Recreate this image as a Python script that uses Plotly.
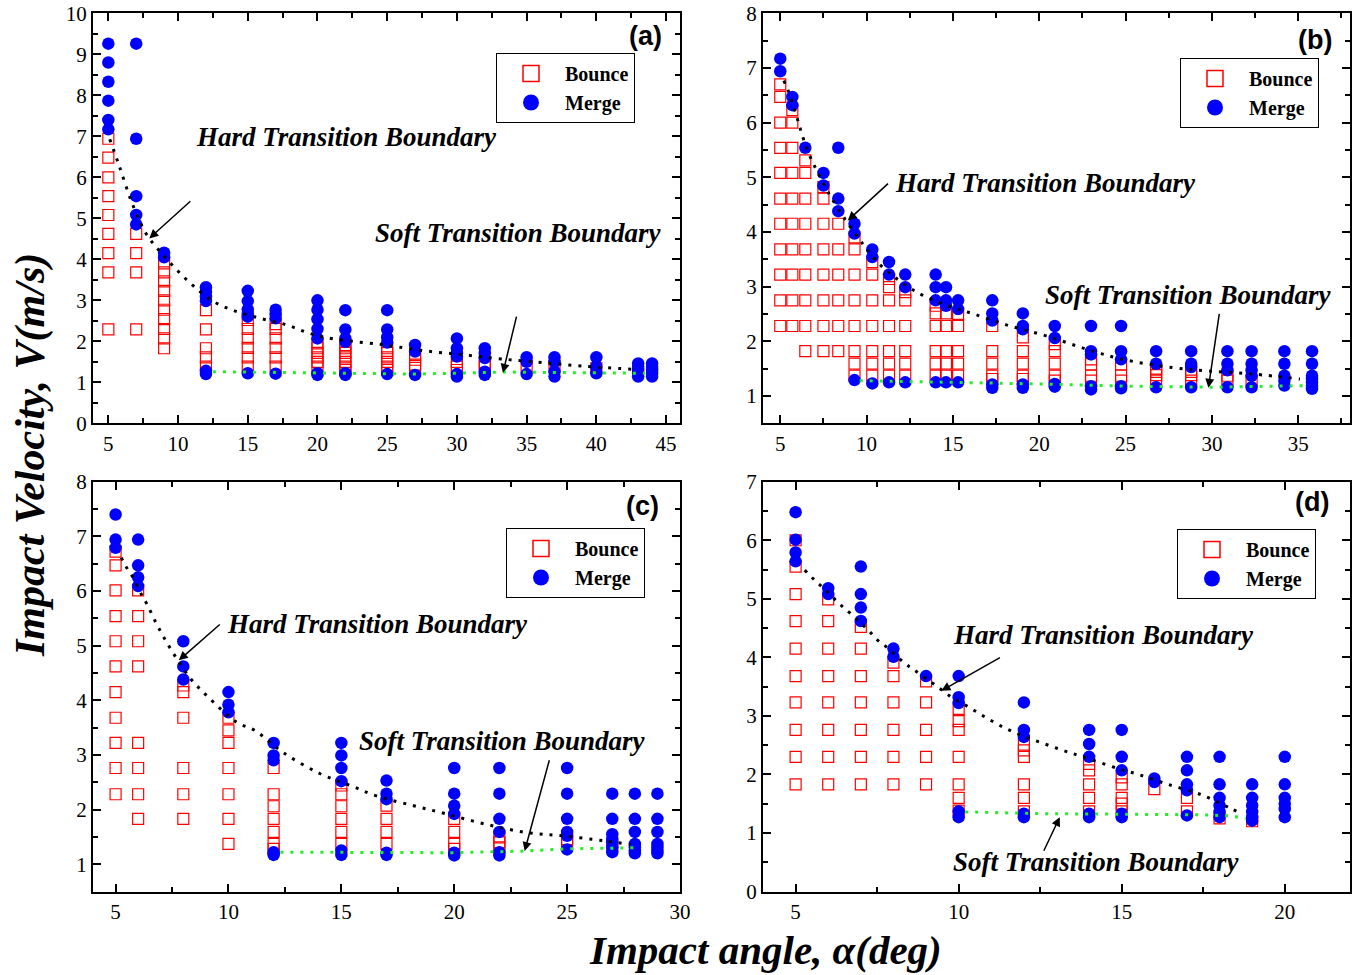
import plotly.graph_objects as go

# ---------------- DATA ----------------
# Panel (a): velocities at each impact angle
a_bounce = {
    5: [6.94, 6.48, 6.0, 5.54, 5.08, 4.62, 4.15, 3.68, 2.29],
    7: [4.62, 4.15, 3.68, 2.29],
    9: [3.9, 3.68, 3.46, 3.23, 3.0, 2.77, 2.54, 2.3, 2.07, 1.83],
    12: [2.76, 2.29, 1.83, 1.61, 1.38],
    15: [2.52, 2.3, 2.07, 1.84, 1.61, 1.38],
    17: [2.42, 2.3, 2.07, 1.84, 1.61, 1.38],
    20: [1.95, 1.83, 1.72, 1.61, 1.5, 1.38],
    22: [1.91, 1.83, 1.72, 1.61, 1.5, 1.38, 1.3],
    25: [1.83, 1.72, 1.61, 1.5, 1.38, 1.3],
    27: [1.67, 1.55, 1.43, 1.35],
    30: [1.5, 1.38, 1.3],
    32: [1.46, 1.38],
    35: [1.38],
    37: [1.38],
    40: [1.34],
}
a_merge = {
    5: [9.26, 8.8, 8.33, 7.87, 7.4, 7.17],
    7: [9.26, 6.94, 5.54, 5.08, 4.85],
    9: [4.16, 4.05],
    12: [3.32, 3.2, 3.08, 2.98, 1.28, 1.2],
    15: [3.23, 2.98, 2.78, 2.68, 2.6, 1.22],
    17: [2.77, 2.66, 2.56, 1.21],
    20: [3.0, 2.77, 2.54, 2.3, 2.07, 1.22, 1.18],
    22: [2.76, 2.29, 2.07, 1.99, 1.22, 1.18],
    25: [2.76, 2.29, 2.1, 1.97, 1.2],
    27: [1.91, 1.75, 1.18],
    30: [2.07, 1.83, 1.71, 1.63, 1.2, 1.14],
    32: [1.83, 1.71, 1.59, 1.26, 1.18],
    35: [1.61, 1.5, 1.2],
    37: [1.61, 1.5, 1.26, 1.14],
    40: [1.61, 1.38, 1.22],
    43: [1.46, 1.38, 1.3, 1.22, 1.14],
    44: [1.46, 1.38, 1.3, 1.22, 1.14],
}
a_hard_x = [5.1, 5.8, 6.7, 7.7, 8.7, 9.8, 11.1, 12.4, 13.9, 15.9, 17.8, 19.2, 20.5, 22.5, 24.4, 25.8, 27.9, 30.5, 33.2, 36.1, 39.2, 42.5]
a_hard_y = [6.93, 6.26, 5.37, 4.63, 4.19, 3.78, 3.35, 3.0, 2.76, 2.56, 2.4, 2.22, 2.1, 2.0, 1.93, 1.86, 1.76, 1.67, 1.57, 1.48, 1.39, 1.32]
a_soft_x = [12.5, 20, 27, 33.4, 40, 43.5]
a_soft_y = [1.26, 1.22, 1.2, 1.25, 1.23, 1.22]

# Panel (b)
b_bounce = {
    5.0: [6.70, 6.47, 6.0, 5.54, 5.08, 4.61, 4.15, 3.68, 3.22, 2.75, 2.28],
    5.7: [6.23, 6.0, 5.54, 5.08, 4.61, 4.15, 3.68, 3.22, 2.75, 2.28],
    6.45: [5.31, 5.08, 4.61, 4.15, 3.68, 3.22, 2.75, 2.28, 1.82],
    7.5: [4.82, 4.61, 4.15, 3.68, 3.22, 2.75, 2.28, 1.82],
    8.36: [4.15, 3.68, 3.22, 2.75, 2.28, 1.82],
    9.3: [3.9, 3.68, 3.22, 2.75, 2.28, 1.82, 1.59, 1.37],
    10.33: [3.45, 3.22, 2.75, 2.28, 1.82, 1.59, 1.37],
    11.3: [3.14, 2.99, 2.75, 2.28, 1.82, 1.59, 1.37],
    12.24: [2.9, 2.75, 2.28, 1.82, 1.59, 1.37],
    14.0: [2.65, 2.51, 2.28, 1.82, 1.59, 1.37],
    14.6: [2.51, 2.28, 1.82, 1.59, 1.37],
    15.3: [2.5, 2.28, 1.82, 1.59, 1.37],
    17.28: [2.28, 1.82, 1.59, 1.37, 1.31],
    19.05: [2.07, 1.82, 1.59, 1.37, 1.31],
    20.9: [1.95, 1.82, 1.59, 1.37, 1.28],
    23.0: [1.67, 1.58, 1.37, 1.28],
    24.74: [1.58, 1.37, 1.28],
    26.77: [1.5, 1.44, 1.38, 1.28],
    28.8: [1.44, 1.38, 1.28],
    30.9: [1.37, 1.28],
    32.3: [1.28],
}
b_merge = {
    5.0: [7.17, 6.94],
    5.7: [6.47, 6.32],
    6.45: [5.54],
    7.5: [5.08, 4.85],
    8.36: [5.54, 4.61, 4.38],
    9.3: [4.15, 3.97, 1.29],
    10.33: [3.68, 3.54, 1.23],
    11.3: [3.45, 3.22, 1.25],
    12.24: [3.22, 2.99, 1.25],
    14.0: [3.22, 2.99, 2.75, 1.25],
    14.6: [2.99, 2.75, 2.65, 1.25],
    15.3: [2.75, 2.59, 1.25],
    17.28: [2.75, 2.51, 2.38, 1.21, 1.15],
    19.05: [2.51, 2.28, 2.22, 1.21, 1.15],
    20.9: [2.28, 2.06, 1.22, 1.17],
    23.0: [2.28, 1.82, 1.76, 1.18, 1.12],
    24.74: [2.28, 1.82, 1.67, 1.18, 1.14],
    26.77: [1.82, 1.59, 1.16],
    28.8: [1.82, 1.59, 1.53, 1.16],
    30.9: [1.82, 1.59, 1.47, 1.16],
    32.3: [1.82, 1.59, 1.47, 1.37, 1.16],
    34.2: [1.82, 1.59, 1.37, 1.28, 1.19],
    35.8: [1.82, 1.59, 1.37, 1.31, 1.25, 1.19, 1.13],
}
b_hard_x = [5.2, 5.44, 5.97, 6.3, 6.7, 7.2, 7.8, 8.8, 9.6, 10.0, 10.85, 12.9, 15.0, 16.2, 18.1, 20.4, 22.7, 24.84, 27.7, 29.7, 32.4, 35.1]
b_hard_y = [6.77, 6.6, 6.09, 5.74, 5.4, 5.07, 4.71, 4.21, 3.86, 3.69, 3.38, 2.9, 2.62, 2.5, 2.3, 2.1, 1.86, 1.67, 1.52, 1.46, 1.40, 1.31]
b_soft_x = [9.6, 15, 20, 25, 30, 35.5]
b_soft_y = [1.28, 1.25, 1.22, 1.18, 1.16, 1.19]

# Panel (c)
c_bounce = {
    5: [6.72, 6.47, 6.01, 5.54, 5.08, 4.62, 4.15, 3.68, 3.22, 2.76, 2.28],
    6: [6.01, 5.54, 5.08, 4.62, 3.22, 2.76, 2.28, 1.83],
    8: [4.27, 4.15, 3.68, 2.76, 2.28, 1.83],
    10: [3.68, 3.45, 3.22, 2.76, 2.28, 1.83, 1.37],
    12: [2.76, 2.28, 2.06, 1.83, 1.59, 1.37, 1.28],
    15: [2.44, 2.28, 2.06, 1.83, 1.59, 1.37],
    17: [2.07, 1.83, 1.59, 1.37],
    20: [1.83, 1.59, 1.37, 1.28],
    22: [1.49, 1.40, 1.31],
    25: [1.46, 1.40],
    27: [1.35],
}
c_merge = {
    5: [7.40, 6.94, 6.79],
    6: [6.94, 6.47, 6.25, 6.09],
    8: [5.08, 4.62, 4.38],
    10: [4.15, 3.92, 3.78],
    12: [3.22, 2.99, 2.9, 1.22, 1.17],
    15: [3.22, 2.99, 2.76, 2.52, 1.25, 1.17],
    17: [2.53, 2.29, 2.19, 1.21, 1.17],
    20: [2.76, 2.29, 2.07, 1.92, 1.21, 1.16],
    22: [2.76, 2.29, 1.83, 1.59, 1.22, 1.16],
    25: [2.76, 2.29, 1.83, 1.59, 1.52, 1.27],
    27: [2.29, 1.83, 1.55, 1.46, 1.40, 1.31, 1.22],
    28: [2.29, 1.83, 1.59, 1.37, 1.31, 1.25, 1.2],
    29: [2.29, 1.83, 1.59, 1.37, 1.31, 1.25, 1.2],
}
c_hard_x = [5.25, 5.47, 5.74, 6.14, 6.39, 6.8, 7.25, 7.76, 8.35, 9.1, 10.35, 11.16, 12.4, 14.04, 15.4, 16.55, 18.2, 19.65, 21.4, 23.2, 24.8, 26.6, 27.8]
c_hard_y = [6.61, 6.44, 6.27, 5.94, 5.76, 5.41, 5.07, 4.73, 4.38, 4.06, 3.6, 3.45, 3.05, 2.66, 2.44, 2.25, 2.07, 1.92, 1.73, 1.58, 1.52, 1.43, 1.36]
c_soft_x = [12.3, 17, 20, 23.1, 25, 28]
c_soft_y = [1.22, 1.22, 1.21, 1.24, 1.28, 1.30]

# Panel (d)
d_bounce = {
    5: [6.0, 5.55, 5.08, 4.62, 4.15, 3.68, 3.23, 2.76, 2.30, 1.83],
    6: [4.99, 4.62, 4.15, 3.68, 3.23, 2.76, 2.30, 1.83],
    7: [4.52, 4.15, 3.68, 3.23, 2.76, 2.30, 1.83],
    8: [3.91, 3.68, 3.23, 2.76, 2.30, 1.83],
    9: [3.59, 3.23, 2.76, 2.30, 1.83],
    10: [3.12, 2.91, 2.76, 2.30, 1.83, 1.60, 1.38],
    12: [2.51, 2.41, 2.30, 1.83, 1.60, 1.37],
    14: [2.18, 2.07, 1.83, 1.60, 1.37],
    15: [1.95, 1.83, 1.60, 1.5, 1.37],
    16: [1.75],
    17: [1.60, 1.37],
    18: [1.25],
    19: [1.2],
}
d_merge = {
    5: [6.48, 6.01, 5.79, 5.64],
    6: [5.18, 5.08],
    7: [5.55, 5.08, 4.85, 4.62],
    8: [4.15, 4.01],
    9: [3.68],
    10: [3.68, 3.32, 3.22, 1.37, 1.27],
    12: [3.23, 2.76, 2.64, 1.33, 1.27],
    14: [2.76, 2.52, 2.30, 1.33, 1.27],
    15: [2.76, 2.30, 2.07, 1.33, 1.27],
    16: [1.93, 1.87],
    17: [2.30, 2.07, 1.83, 1.73, 1.30],
    18: [2.30, 1.83, 1.60, 1.47, 1.36, 1.27],
    19: [1.83, 1.60, 1.47, 1.36, 1.27, 1.21],
    20: [2.30, 1.83, 1.60, 1.50, 1.41, 1.27],
}
d_hard_x = [5.28, 5.58, 5.86, 6.15, 6.43, 6.7, 7.25, 7.5, 7.78, 8.34, 8.62, 9.2, 9.78, 10.34, 10.9, 11.46, 12.0, 12.64, 13.2, 13.76, 14.89, 15.45, 16.37, 17.5, 18.37, 18.67]
d_hard_y = [5.49, 5.32, 5.18, 5.02, 4.87, 4.74, 4.45, 4.3, 4.18, 3.9, 3.79, 3.56, 3.32, 3.14, 2.95, 2.78, 2.65, 2.52, 2.41, 2.31, 2.1, 2.01, 1.84, 1.64, 1.41, 1.33]
d_soft_x = [10.2, 12.5, 15, 17.5, 18.4, 18.8]
d_soft_y = [1.36, 1.33, 1.32, 1.31, 1.29, 1.24]

panel_labels = ["(a)", "(b)", "(c)", "(d)"]
x_ranges = [[3.9, 46], [4, 38], [4, 30], [4, 22]]
y_ranges = [[0, 10], [0.5, 8], [0.5, 8], [0, 7]]
x_titles = "Impact angle, α(deg)"
y_titles = "Impact Velocity, V(m/s)"

# ---------------- LAYOUT CONSTANTS ----------------
W, H = 1360, 975
def px_x(p):
    return p / W
def px_y(p):
    return 1 - p / H

x_domains = [[px_x(93), px_x(680)], [px_x(763), px_x(1350)], [px_x(93), px_x(680)], [px_x(763), px_x(1350)]]
y_domains = [[px_y(423.3), px_y(13.3)], [px_y(423.3), px_y(13.3)], [px_y(891.5), px_y(481.7)], [px_y(891.5), px_y(481.7)]]
legend_pos = [(px_x(496), px_y(53)), (px_x(1180), px_y(58)), (px_x(506), px_y(528)), (px_x(1177), px_y(529))]

# annotation positions in data coordinates (text: x, y)
hard_text = [(22.1, 6.98), (20.37, 4.89), (16.59, 5.39), (14.43, 4.38)]
soft_text = [(34.4, 4.64), (28.65, 2.85), (22.12, 3.26), (14.23, 0.51)]
label_pos = [(43.5, 9.45), (35.95, 7.51), (28.35, 7.55), (20.83, 6.65)]
# arrows: (tail_x, tail_y, tip_x, tip_y)
hard_arrows = [(10.99, 5.45, 7.94, 4.51), (11.33, 4.91, 8.91, 4.21), (9.68, 5.41, 7.8, 4.73), (11.31, 4.01, 9.47, 3.43)]
soft_arrows = [(34.3, 2.64, 33.3, 1.23), (30.44, 2.53, 29.8, 1.15), (24.23, 2.93, 23.12, 1.24), (12.59, 0.67, 13.1, 1.27)]

bounces = [a_bounce, b_bounce, c_bounce, d_bounce]
merges = [a_merge, b_merge, c_merge, d_merge]
hards = [(a_hard_x, a_hard_y), (b_hard_x, b_hard_y), (c_hard_x, c_hard_y), (d_hard_x, d_hard_y)]
softs = [(a_soft_x, a_soft_y), (b_soft_x, b_soft_y), (c_soft_x, c_soft_y), (d_soft_x, d_soft_y)]

SERIF = "Liberation Serif"
fig = go.Figure()

def flat(d):
    xs, ys = [], []
    for k, vals in d.items():
        for v in vals:
            xs.append(k)
            ys.append(v)
    return xs, ys

annotations = []
layout = {}
for i in range(4):
    sfx = "" if i == 0 else str(i + 1)
    xa, ya = "x" + sfx, "y" + sfx
    leg = "legend" + sfx
    hx, hy = hards[i]
    sx, sy = softs[i]
    bx, by = flat(bounces[i])
    mx, my = flat(merges[i])
    fig.add_trace(go.Scatter(x=bx, y=by, mode="markers", xaxis=xa, yaxis=ya, showlegend=False,
                             marker=dict(symbol="square-open", size=11, color="#ff0000", line=dict(width=1.2, color="#ff0000"))))
    fig.add_trace(go.Scatter(x=mx, y=my, mode="markers", xaxis=xa, yaxis=ya, showlegend=False,
                             marker=dict(symbol="circle", size=12.5, color="#0000ff")))
    fig.add_trace(go.Scatter(x=hx, y=hy, mode="lines", xaxis=xa, yaxis=ya, showlegend=False,
                             line=dict(color="black", width=3, dash="3px,7px", shape="spline")))
    fig.add_trace(go.Scatter(x=sx, y=sy, mode="lines", xaxis=xa, yaxis=ya, showlegend=False,
                             line=dict(color="#22ee22", width=3, dash="3px,7px")))
    # legend entries
    fig.add_trace(go.Scatter(x=[None], y=[None], mode="markers", xaxis=xa, yaxis=ya, name="Bounce", legend=leg,
                             marker=dict(symbol="square-open", size=16, color="#ff0000", line=dict(width=1.5, color="#ff0000"))))
    fig.add_trace(go.Scatter(x=[None], y=[None], mode="markers", xaxis=xa, yaxis=ya, name="Merge", legend=leg,
                             marker=dict(symbol="circle", size=20, color="#0000ff")))

    axis_common = dict(showline=True, linecolor="black", linewidth=2, mirror="allticks",
                       ticks="inside", ticklen=8, tickwidth=1.5, tickcolor="black",
                       showgrid=False, zeroline=False, ticklabeloverflow="allow",
                       tickfont=dict(family=SERIF, size=21, color="black"))
    layout["xaxis" + sfx] = dict(axis_common, domain=x_domains[i], range=x_ranges[i], anchor=ya,
                                 tick0=5, dtick=5,
                                 minor=dict(ticks="inside", ticklen=5, tickwidth=1.5, tickcolor="black", dtick=2.5, tick0=0))
    layout["yaxis" + sfx] = dict(axis_common, domain=y_domains[i], range=y_ranges[i], anchor=xa,
                                 dtick=1, tick0=0,
                                 minor=dict(ticks="inside", ticklen=5, tickwidth=1.5, tickcolor="black", dtick=0.5, tick0=0))
    layout[leg] = dict(x=legend_pos[i][0], y=legend_pos[i][1], xanchor="left", yanchor="top",
                       bgcolor="white", bordercolor="black", borderwidth=1, itemwidth=58,
                       font=dict(family=SERIF, size=20, color="black", weight="bold"),
                       tracegroupgap=0)
    tfont = dict(family=SERIF, size=27, color="black", style="italic", weight="bold")
    annotations.append(dict(x=hard_text[i][0], y=hard_text[i][1], xref=xa, yref=ya, text="Hard Transition Boundary",
                            showarrow=False, font=tfont, xanchor="center", yanchor="middle"))
    annotations.append(dict(x=soft_text[i][0], y=soft_text[i][1], xref=xa, yref=ya, text="Soft Transition Boundary",
                            showarrow=False, font=tfont, xanchor="center", yanchor="middle"))
    annotations.append(dict(x=label_pos[i][0], y=label_pos[i][1], xref=xa, yref=ya, text=panel_labels[i],
                            showarrow=False, font=dict(family="Liberation Sans", size=27, color="black", weight="bold"),
                            xanchor="center", yanchor="middle"))
    for arr in (hard_arrows[i], soft_arrows[i]):
        annotations.append(dict(x=arr[2], y=arr[3], ax=arr[0], ay=arr[1], xref=xa, yref=ya, axref=xa, ayref=ya,
                                text="", showarrow=True, arrowhead=2, arrowsize=1.2, arrowwidth=1.5, arrowcolor="black"))

annotations.append(dict(x=px_x(30), y=px_y(455), xref="paper", yref="paper", text=y_titles, textangle=-90,
                        showarrow=False, font=dict(family=SERIF, size=42, color="black", style="italic", weight="bold"),
                        xanchor="center", yanchor="middle"))
annotations.append(dict(x=px_x(765), y=px_y(950), xref="paper", yref="paper", text=x_titles,
                        showarrow=False, font=dict(family=SERIF, size=41, color="black", style="italic", weight="bold"),
                        xanchor="center", yanchor="middle"))

fig.update_layout(**layout)
fig.update_layout(width=W, height=H, margin=dict(l=0, r=0, t=0, b=0, autoexpand=False),
                  plot_bgcolor="white", paper_bgcolor="white",
                  annotations=annotations, showlegend=True)
# remove the browser's default 8px page margin so the figure fills the window exactly
fig.write_html("out.html", config={"displayModeBar": False},
               post_script="document.body.style.margin='0px'; document.body.style.overflow='hidden';")
